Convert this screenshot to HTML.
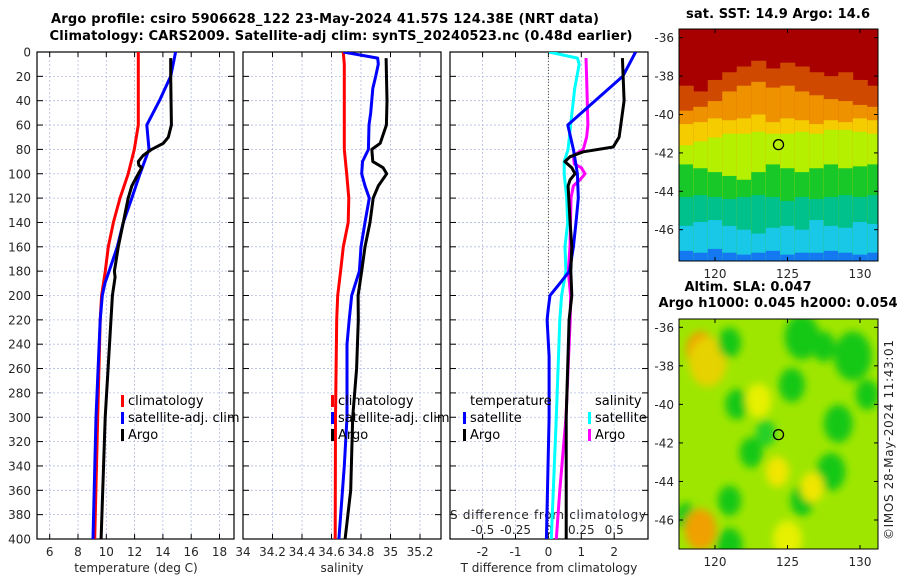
<!DOCTYPE html>
<html><head><meta charset="utf-8"><style>
html,body{margin:0;padding:0;background:#fff}
svg{display:block;font-family:"DejaVu Sans","Liberation Sans",sans-serif}
.tk{font-size:12px;fill:#262626}
.tt{font-size:13px;font-weight:bold;fill:#000}
.lg{font-size:13px;fill:#000}
</style></head><body>
<svg id="c" width="900" height="580" viewBox="0 0 900 580" xmlns="http://www.w3.org/2000/svg">
<text class="tt" x="325" y="23" text-anchor="middle" textLength="548">Argo profile: csiro 5906628_122 23-May-2024 41.57S 124.38E (NRT data)</text>
<text class="tt" x="341" y="40" text-anchor="middle" textLength="583">Climatology: CARS2009. Satellite-adj clim: synTS_20240523.nc (0.48d earlier)</text>
<text class="tt" x="778" y="18" text-anchor="middle" textLength="184">sat. SST: 14.9 Argo: 14.6</text>
<text class="tt" x="748" y="291" text-anchor="middle" textLength="127">Altim. SLA: 0.047</text>
<text class="tt" x="778" y="307" text-anchor="middle" textLength="239">Argo h1000: 0.045 h2000: 0.054</text>
<text class="tk" transform="translate(893,540) rotate(-90)" textLength="200">©IMOS 28-May-2024 11:43:01</text>
</svg>
<script>
// ---------- data ----------
const depths   = [0,20,40,60,80,100,120,140,160,180,200,220,300,400];
const tClim    = [12.26,12.26,12.26,12.26,11.98,11.55,10.97,10.5,10.14,9.93,9.67,9.57,9.39,9.18];
const tSatD    = [0,20,40,60,80,100,120,140,160,180,190,200,220,300,400];
const tSat     = [14.9,14.55,13.75,12.86,13.02,12.38,11.8,11.2,10.78,10.2,9.9,9.72,9.57,9.27,9.06];
const tArgoD   = [5,20,60,70,75,80,85,90,93,95,100,110,120,140,160,180,185,200,300,400];
const tArgo    = [14.55,14.55,14.6,14.38,14.03,13.2,12.6,12.26,12.3,12.5,12.26,11.8,11.55,11.2,10.85,10.57,10.62,10.43,9.92,9.63];
const sClimD   = [0,10,80,100,120,140,160,180,200,220,300,400];
const sClim    = [34.68,34.687,34.687,34.703,34.717,34.713,34.68,34.662,34.642,34.635,34.627,34.625];
const sSatD    = [0,5,10,20,30,50,60,80,90,100,110,120,140,160,180,200,220,240,300,340,400];
const sSat     = [34.68,34.913,34.917,34.90,34.88,34.866,34.854,34.85,34.81,34.805,34.827,34.856,34.827,34.8,34.789,34.737,34.72,34.705,34.705,34.687,34.65];
const sArgoD   = [5,40,60,75,80,90,95,100,110,120,140,160,180,200,220,260,300,360,400];
const sArgo    = [34.97,34.976,34.972,34.93,34.873,34.88,34.95,34.974,34.917,34.883,34.861,34.827,34.805,34.78,34.782,34.77,34.744,34.73,34.692];
const dTSatD   = [0,20,40,60,80,100,120,140,160,180,190,200,210,220,250,300,400];
const dTSat    = [2.65,2.26,1.42,0.59,0.76,0.88,0.91,0.84,0.76,0.64,0.35,0.05,0,-0.04,0.02,0.02,-0.06];
const dTArgoD  = [5,40,60,70,78,82,86,90,95,100,105,110,140,160,180,200,220,300,400];
const dTArgo   = [2.25,2.3,2.2,2.15,1.97,1.06,0.66,0.5,0.71,0.81,0.66,0.6,0.66,0.71,0.68,0.71,0.63,0.54,0.54];
const dSSatD   = [0,5,10,30,60,80,90,100,120,140,160,180,200,220,300,400];
const dSSat    = [0.005,0.22,0.234,0.2,0.169,0.15,0.12,0.12,0.139,0.147,0.126,0.133,0.10,0.087,0.06,0.022];
const dSArgoD  = [5,20,60,70,80,85,92,95,100,105,110,120,160,180,200,220,300,360,400];
const dSArgo   = [0.286,0.29,0.30,0.29,0.265,0.19,0.197,0.25,0.278,0.24,0.19,0.172,0.164,0.151,0.169,0.166,0.134,0.087,0.06];
const depthTicks = [0,20,40,60,80,100,120,140,160,180,200,220,240,260,280,300,320,340,360,380,400];
const tTicks = [6,8,10,12,14,16,18];
const sTicks = [34,34.2,34.4,34.6,34.8,35,35.2];
const sTickLabels = ["34","34.2","34.4","34.6","34.8","35","35.2"];
const dTicks = [-2,-1,0,1,2];
const dsTicks = [-0.5,-0.25,0,0.25,0.5];
const lonTicks = [120,125,130];
const latTicks = [-36,-38,-40,-42,-44,-46];
// SST map: band boundary latitudes per 1-degree lon column (117.5..131.5)
const sstColors = ["#a80000","#cf4a00","#ee9200","#f4cc00","#b4f000","#18c828","#00c08c","#18c8e6","#1478f0"];
const sstB1 = [-38.5,-38.8,-38.2,-37.8,-37.5,-37.2,-37.6,-37.3,-37.5,-37.8,-38,-37.8,-38.2,-38.5];
const sstB2 = [-39.8,-39.6,-39.3,-38.8,-38.5,-38.3,-38.6,-38.5,-38.8,-39,-39.2,-39.3,-39.5,-39.6];
const sstB3 = [-40.5,-40.4,-40.2,-40.3,-40.2,-40,-40.4,-40.2,-40.3,-40.5,-40.3,-40.4,-40.2,-40.3];
const sstB4 = [-41.6,-41.4,-41.2,-41,-41,-40.9,-41,-41,-40.9,-41,-40.8,-40.8,-40.9,-41];
const sstB5 = [-42.6,-42.8,-43,-43.2,-43.4,-43,-42.6,-42.8,-43,-42.8,-42.6,-42.8,-42.7,-42.6];
const sstB6 = [-44.3,-44.2,-44.3,-44.4,-44.3,-44.2,-44.3,-44.5,-44.3,-44.4,-44.3,-44.2,-44.3,-44.2];
const sstB7 = [-45.8,-45.6,-45.5,-45.8,-46,-46.2,-45.9,-45.8,-46,-45.5,-45.8,-45.9,-45.6,-45.7];
const sstB8 = [-47.1,-47.2,-47.0,-47.2,-47.3,-47.2,-47.1,-47.3,-47.2,-47.2,-47.1,-47.2,-47.3,-47.2];
// SLA map blobs: lon, lat, radius(deg), colour
const slaLon = [119,119.5,121,126,129.5,125.3,121.5,128.5,122.5,128,121,118,121,126,119,124.3,126.7,123,125,130.5,127.5,123.5];
const slaLat = [-37.2,-37.8,-36.8,-36.5,-37.5,-39,-40,-41,-42.5,-43.5,-45,-45.8,-47.3,-45,-46.5,-43.5,-44.3,-39.8,-47,-39.5,-37,-41.5];
const slaR   = [1.0,1.3,0.8,1.2,1.3,0.9,0.8,1.0,0.8,1.0,0.8,0.7,0.9,0.8,1.1,0.8,0.8,0.9,1.0,0.8,0.8,0.7];
const slaCol = ["#f0a000","#e6d200","#18c818","#18c818","#18c818","#18c818","#18c818","#18c818","#18c818","#18c818","#18c818","#18c818","#18c818","#18c818","#f0a000","#f0e600","#f0e600","#e6f000","#e6f000","#18c818","#18c818","#28d028"];
// ---------- helpers ----------
const NS="http://www.w3.org/2000/svg", svg=document.getElementById('c');
function mk(t,a,p){const e=document.createElementNS(NS,t);for(const k in a)e.setAttribute(k,a[k]);(p||svg).appendChild(e);return e;}
const Y0=52,Y1=539;
const yD=d=>Y0+(d/400)*(Y1-Y0);
const xT=v=>49.7+(v-6)*14.15;
const xS=v=>243+(v-34)*147.5;
const xD=v=>548.4+v*32.9;
const xDS=v=>548.4+v*131.6;
const panels=[[37,234],[243,441],[450,648]];
// grids & frames
panels.forEach((p,i)=>{
  const g=mk('g',{});
  
  
  const vt = i===0?tTicks.map(xT):i===1?sTicks.map(xS):dTicks.map(xD);
  vt.forEach(x=>{ if(x>p[0]+1&&x<p[1]-1) mk('line',{x1:x,x2:x,y1:Y0,y2:Y1,stroke:'#b4bce6','stroke-width':0.8,'stroke-dasharray':'2,2'},g);
    mk('line',{x1:x,x2:x,y1:Y1,y2:Y1-5,stroke:'#000'},g); mk('line',{x1:x,x2:x,y1:Y0,y2:Y0+5,stroke:'#000'},g);});
  depthTicks.forEach(d=>{const y=yD(d);
    if(d>0&&d<400) mk('line',{x1:p[0],x2:p[1],y1:y,y2:y,stroke:'#b4bce6','stroke-width':0.8,'stroke-dasharray':'2,2'},g);
    mk('line',{x1:p[0],x2:p[0]+6,y1:y,y2:y,stroke:'#000'},g); mk('line',{x1:p[1]-6,x2:p[1],y1:y,y2:y,stroke:'#000'},g);});
  mk('rect',{x:p[0],y:Y0,width:p[1]-p[0],height:Y1-Y0,fill:'none',stroke:'#000','stroke-width':1.2},g);
});
depthTicks.forEach(d=>{const t=mk('text',{class:'tk',x:31,y:yD(d)+4.5,'text-anchor':'end'});t.textContent=d;

});
tTicks.forEach(v=>{const t=mk('text',{class:'tk',x:xT(v),y:556,'text-anchor':'middle'});t.textContent=v;

});
sTicks.forEach((v,i)=>{const t=mk('text',{class:'tk',x:xS(v),y:556,'text-anchor':'middle'});t.textContent=sTickLabels[i];

});
dTicks.forEach(v=>{const t=mk('text',{class:'tk',x:xD(v),y:556,'text-anchor':'middle'});t.textContent=v;

});
dsTicks.forEach(v=>{const t=mk('text',{class:'tk',x:xDS(v),y:534,'text-anchor':'middle'});t.textContent=v;

});
[['temperature (deg C)',136,'x-axis-title-temperature'],['salinity',342,'x-axis-title-salinity'],['T difference from climatology',549,'x-axis-title-t-diff']].forEach(a=>{
  const t=mk('text',{class:'tk',x:a[1],y:572,'text-anchor':'middle','font-size':'13px'});t.textContent=a[0];
  
  });
{const t=mk('text',{class:'tk',x:450,y:519,'font-size':'13px',textLength:196});t.textContent='S difference from climatology';

}
// zero dotted line
{const l=mk('line',{x1:xD(0),x2:xD(0),y1:Y0,y2:Y1,stroke:'#555533','stroke-width':1,'stroke-dasharray':'1,2'});

}
function line(ds,vs,fx,col,name,x0,x1){
  const pts=ds.map((d,i)=>fx(vs[i]).toFixed(1)+','+yD(d).toFixed(1)).join(' ');
  const cp='clip'+name; const c=mk('clipPath',{id:cp}); mk('rect',{x:x0,y:Y0,width:x1-x0,height:Y1-Y0},c);
  const p=mk('polyline',{points:pts,fill:'none',stroke:col,'stroke-width':3,'stroke-linejoin':'round','clip-path':'url(#'+cp+')'});
  
  
}
line(depths,tClim,xT,'#ff0000','temp-climatology-line',37,234);
line(tSatD,tSat,xT,'#0000ff','temp-satellite-line',37,234);
line(tArgoD,tArgo,xT,'#000000','temp-argo-line',37,234);
line(sClimD,sClim,xS,'#ff0000','sal-climatology-line',243,441);
line(sSatD,sSat,xS,'#0000ff','sal-satellite-line',243,441);
line(sArgoD,sArgo,xS,'#000000','sal-argo-line',243,441);
line(dSSatD,dSSat,xDS,'#00ffff','sdiff-satellite-line',450,648);
line(dSArgoD,dSArgo,xDS,'#ff00ff','sdiff-argo-line',450,648);
line(dTSatD,dTSat,xD,'#0000ff','tdiff-satellite-line',450,648);
line(dTArgoD,dTArgo,xD,'#000000','tdiff-argo-line',450,648);
// legends
function leg(x,y,col,txt,name){
  if(col) mk('rect',{x:x,y:y-10,width:3,height:12,fill:col});
  const t=mk('text',{class:'lg',x:x+7,y:y});t.textContent=txt;
  
  
}
leg(121,405,'#ff0000','climatology','legend-climatology');
leg(121,422,'#0000ff','satellite-adj. clim','legend-satellite-adj');
leg(121,439,'#000000','Argo','legend-argo');
leg(331,405,'#ff0000','climatology','legend2-climatology');
leg(331,422,'#0000ff','satellite-adj. clim','legend2-satellite-adj');
leg(331,439,'#000000','Argo','legend2-argo');
leg(463,405,null,'temperature','legend-temperature-header');
leg(463,422,'#0000ff','satellite','legend-t-satellite');
leg(463,439,'#000000','Argo','legend-t-argo');
leg(588,405,null,'salinity','legend-salinity-header');
leg(588,422,'#00ffff','satellite','legend-s-satellite');
leg(588,439,'#ff00ff','Argo','legend-s-argo');
// ---------- maps ----------
const lonX=l=>715+(l-120)*14.5;
function mapFrame(top,bot,latY,name,draw){
  const g=mk('g',{});
  
  
  const cid='clip-'+name; const c=mk('clipPath',{id:cid}); mk('rect',{x:679,y:top,width:199,height:bot-top},c);
  const inner=mk('g',{'clip-path':'url(#'+cid+')'},g);
  draw(inner);
  mk('rect',{x:679,y:top,width:199,height:bot-top,fill:'none',stroke:'#000','stroke-width':1},g);
  latTicks.forEach(l=>{const y=latY(l);mk('line',{x1:679,x2:683,y1:y,y2:y,stroke:'#000'},g);mk('line',{x1:874,x2:878,y1:y,y2:y,stroke:'#000'},g);
    const t=mk('text',{class:'tk',x:674,y:y+4.5,'text-anchor':'end'},g);t.textContent=l;});
  lonTicks.forEach(l=>{const x=lonX(l);mk('line',{x1:x,x2:x,y1:bot,y2:bot-4,stroke:'#000'},g);mk('line',{x1:x,x2:x,y1:top,y2:top+4,stroke:'#000'},g);
    const t=mk('text',{class:'tk',x:x,y:bot+17,'text-anchor':'middle'},g);t.textContent=l;});
  mk('circle',{cx:lonX(124.38),cy:latY(-41.57),r:5,fill:'none',stroke:'#000','stroke-width':1.3},g);
}
const sstY=l=>37.7+(-36-l)*19.2;
mapFrame(29,261,sstY,'sst-map',g=>{
  mk('rect',{x:679,y:29,width:199,height:232,fill:sstColors[0]},g);
  const B=[sstB1,sstB2,sstB3,sstB4,sstB5,sstB6,sstB7,sstB8];
  for(let c=0;c<14;c++){
    const x=lonX(117.5+c);
    B.forEach((b,k)=>{const y=sstY(b[c]);
      const r=mk('rect',{x:x,y:y,width:15,height:261-y,fill:sstColors[k+1]},g);});
  }
});
const slaY=l=>327.3+(-36-l)*19.27;
mapFrame(319,549,slaY,'sla-map',g=>{
  const f=mk('filter',{id:'blr',x:'-50%',y:'-50%',width:'200%',height:'200%'});mk('feGaussianBlur',{stdDeviation:4},f);
  mk('rect',{x:679,y:319,width:199,height:230,fill:'#9ee600'},g);
  const bg=mk('g',{filter:'url(#blr)'},g);
  slaLon.forEach((lo,i)=>{mk('ellipse',{cx:lonX(lo),cy:slaY(slaLat[i]),rx:slaR[i]*14.5,ry:slaR[i]*19,fill:slaCol[i]},bg);});
});
</script>
</body></html>
